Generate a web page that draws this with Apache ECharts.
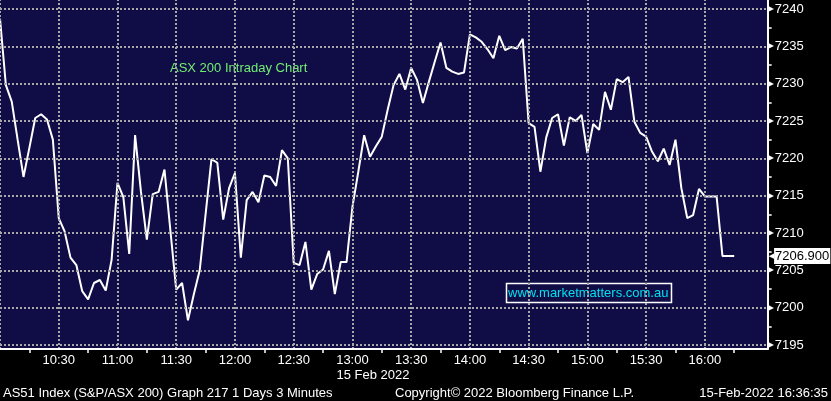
<!DOCTYPE html>
<html><head><meta charset="utf-8">
<script src="https://cdn.jsdelivr.net/npm/echarts@6/dist/echarts.min.js"></script>
<style>html,body{margin:0;padding:0;background:#000}#c{width:831px;height:401px}</style>
</head><body><div id="c"></div>
<script>
// Sampling: 3-minute bars starting 10:00 (minutes since midnight)
const startMinute = 600;
const stepMinutes = 3;
// ASX 200 intraday values
const values = [
 7238.7, 7229.8, 7227.6, 7222.5, 7217.5, 7221.4, 7225.4, 7225.9, 7225.2, 7222.5,
 7212.0, 7210.2, 7206.7, 7205.7, 7202.2, 7201.1, 7203.3, 7203.7, 7202.3, 7206.4,
 7216.7, 7214.8, 7207.2, 7223.1, 7215.5, 7209.1, 7215.2, 7215.5, 7218.5, 7210.4,
 7202.4, 7203.3, 7198.3, 7201.8, 7205.0, 7212.5, 7219.9, 7219.4, 7211.8, 7216.0,
 7218.0, 7206.7, 7214.4, 7215.5, 7214.1, 7217.7, 7217.5, 7216.3, 7221.1, 7220.0,
 7206.0, 7205.7, 7208.8, 7202.4, 7204.5, 7205.1, 7207.6, 7201.8, 7206.1, 7206.1,
 7213.5, 7218.2, 7223.1, 7220.2, 7221.6, 7222.9, 7226.5, 7229.8, 7231.3, 7229.2,
 7232.1, 7230.5, 7227.4, 7230.2, 7232.9, 7235.5, 7232.1, 7231.6, 7231.3, 7231.5,
 7236.6, 7236.2, 7235.6, 7234.6, 7233.4, 7236.4, 7234.5, 7234.9, 7234.7, 7236.0,
 7224.7, 7224.2, 7218.2, 7222.8, 7225.4, 7225.9, 7221.7, 7225.5, 7225.0, 7225.8,
 7220.7, 7224.6, 7223.8, 7228.9, 7226.5, 7230.6, 7230.2, 7230.9, 7224.9, 7223.4,
 7222.9, 7220.9, 7219.6, 7221.3, 7219.1, 7222.5, 7216.0, 7212.0, 7212.4, 7215.9,
 7214.9, 7214.9, 7214.9, 7206.9, 7206.9, 7206.9
];
const xGridTicks = [600, 630, 660, 690, 720, 750, 780, 810, 840, 870, 900, 930, 960];
const xLabelTicks = [630, 660, 690, 720, 750, 780, 810, 840, 870, 900, 930, 960];
const xMinorTicks = [615, 645, 675, 705, 735, 765, 795, 825, 855, 885, 915, 945, 975];
const yLabelTicks = [7195, 7200, 7205, 7210, 7215, 7220, 7225, 7230, 7235, 7240];
const yMinorTicks = [7197.5, 7202.5, 7207.5, 7212.5, 7217.5, 7222.5, 7227.5, 7232.5, 7237.5];
const xRange = [600, 992.1];
const yRange = [7194.46, 7241.2];
const titleText = 'ASX 200 Intraday Chart';
const siteText = 'www.marketmatters.com.au';
const dateText = '15 Feb 2022';
const footerLeft = 'AS51 Index (S&P/ASX 200) Graph 217 1 Days 3 Minutes';
const footerMid = 'Copyright\u00A9 2022 Bloomberg Finance L.P.';
const footerRight = '15-Feb-2022 16:36:35';

const FONT = '"Liberation Sans", Arial, sans-serif';
const seriesData = values.map((v, i) => [startMinute + i * stepMinutes, v]);
const lastVal = values[values.length - 1];
const hhmm = m => { const h = Math.floor(m / 60), mm = Math.round(m % 60); return h + ':' + (mm < 10 ? '0' : '') + mm; };
const gridLine = { color: '#a8a8a8', type: 'dotted', width: 2 };

const W = 831, H = 401, plotRight = 767.7, plotBottom = 349;

const chart = echarts.init(document.getElementById('c'), null, { renderer: 'canvas' });
chart.setOption({
  backgroundColor: '#000',
  animation: false,
  grid: { left: 0, top: 0, right: W - plotRight, bottom: H - plotBottom, show: false },
  xAxis: [{
    type: 'value', min: xRange[0], max: xRange[1], position: 'bottom', z: 5,
    axisLine: { show: true, lineStyle: { color: '#fff', width: 2 } },
    axisTick: { show: false, customValues: xLabelTicks },
    axisLabel: { customValues: xLabelTicks, formatter: v => hhmm(v), color: '#fff', fontSize: 13, fontFamily: FONT, margin: 5 },
    splitLine: { show: false }
  }, {
    type: 'value', min: xRange[0], max: xRange[1], position: 'bottom',
    axisLine: { show: false },
    axisTick: { show: true, customValues: xMinorTicks, length: 4, lineStyle: { color: '#fff', width: 1.5 } },
    axisLabel: { show: false },
    splitLine: { show: false }
  }],
  yAxis: [{
    type: 'value', min: yRange[0], max: yRange[1], position: 'right', z: 5,
    axisLine: { show: true, lineStyle: { color: '#fff', width: 2 } },
    axisTick: { show: false, customValues: yLabelTicks },
    axisLabel: {
      customValues: yLabelTicks, margin: 0,
      formatter: v => '{t|\u25B6}{v|' + v + '}',
      rich: {
        t: { color: '#fff', fontSize: 8, fontFamily: 'DejaVu Sans', padding: [0, 1, 0, 0] },
        v: { color: '#fff', fontSize: 13, fontFamily: FONT }
      }
    },
    splitLine: { show: false }
  }, {
    type: 'value', min: yRange[0], max: yRange[1], position: 'right',
    axisLine: { show: false },
    axisTick: { show: true, customValues: yMinorTicks, length: 4, lineStyle: { color: '#fff', width: 1.5 } },
    axisLabel: { show: false },
    splitLine: { show: false }
  }],
  series: [{
    // dotted grid lines (vertical at half hours, horizontal at labelled values)
    type: 'line', xAxisIndex: 0, yAxisIndex: 0, data: [], z: 1, silent: true,
    markLine: {
      silent: true, symbol: ['none', 'none'], animation: false,
      lineStyle: gridLine,
      label: { show: false },
      data: xGridTicks.map(v => ({ xAxis: v })).concat(yLabelTicks.map(v => ({ yAxis: v })))
    }
  }, {
    type: 'line', xAxisIndex: 0, yAxisIndex: 0, data: seriesData, z: 3,
    showSymbol: false, symbol: 'none',
    lineStyle: { color: '#fff', width: 2 },
    markLine: {
      silent: true, symbol: ['none', 'none'],
      lineStyle: { color: 'rgba(0,0,0,0)', width: 0 },
      data: [{ yAxis: lastVal }],
      label: {
        show: true, position: 'end', distance: 1,
        formatter: () => '{p|\u25C0}{b|' + lastVal.toFixed(3) + '}',
        rich: {
          p: { color: '#fff', fontSize: 7, fontFamily: 'DejaVu Sans' },
          b: { color: '#000', backgroundColor: '#fff', fontSize: 13, fontFamily: FONT, padding: [2, 1, 1, 1] }
        }
      }
    }
  }],
  graphic: [
    { type: 'rect', z: -10, silent: true, shape: { x: 0, y: 0, width: plotRight, height: plotBottom }, style: { fill: '#100c46' } },
    { type: 'text', x: 170, y: 68, style: { text: titleText, fill: '#72ee72', font: '13px ' + FONT, verticalAlign: 'middle' } },
    { type: 'rect', shape: { x: 506.5, y: 283.5, width: 165, height: 19 }, style: { fill: 'none', stroke: '#fff', lineWidth: 1.5 } },
    { type: 'text', x: 508, y: 293, style: { text: siteText, fill: '#00e0f0', font: '13px ' + FONT, verticalAlign: 'middle' } },
    { type: 'text', x: 373, y: 375, style: { text: dateText, fill: '#fff', font: '13px ' + FONT, align: 'center', verticalAlign: 'middle' } },
    { type: 'text', x: 3, y: 393, style: { text: footerLeft, fill: '#fff', font: '13px ' + FONT, verticalAlign: 'middle' } },
    { type: 'text', x: 395, y: 393, style: { text: footerMid, fill: '#fff', font: '13px ' + FONT, verticalAlign: 'middle' } },
    { type: 'text', x: 828, y: 393, style: { text: footerRight, fill: '#fff', font: '13px ' + FONT, align: 'right', verticalAlign: 'middle' } }
  ]
});
</script></body></html>
